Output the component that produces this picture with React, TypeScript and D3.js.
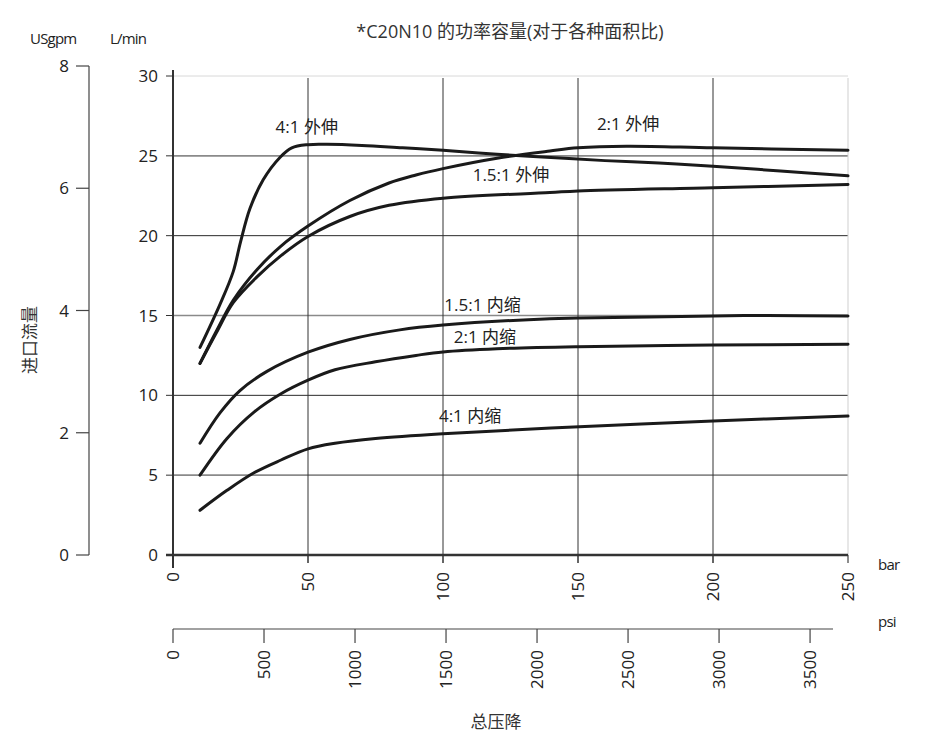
import React from "react";
import * as d3 from "d3";

// Axis ticks
const barTicks = [0, 50, 100, 150, 200, 250];
const psiTicks = [0, 500, 1000, 1500, 2000, 2500, 3000, 3500];
const lpmTicks = [0, 5, 10, 15, 20, 25, 30];
const gpmTicks = [0, 2, 4, 6, 8];

// Flow curves: [pressure drop (bar), inlet flow (L/min)]
const ext41: [number, number][] = [
  [10, 13.0], [17.4, 15.7], [22.3, 17.75], [25, 19.6], [28.5, 21.7], [33.4, 23.5],
  [39.6, 24.9], [44, 25.5], [50, 25.7], [57, 25.72], [70, 25.65], [85, 25.5], [100, 25.35],
  [120, 25.1], [140, 24.9], [160, 24.7], [180, 24.55], [200, 24.35], [225, 24.05], [250, 23.75],
];
const ext21: [number, number][] = [
  [10, 12.0], [16, 14.0], [22.3, 15.95], [31, 17.85], [40, 19.35], [50, 20.6], [65.5, 22.2],
  [80, 23.3], [90, 23.8], [100, 24.2], [120, 24.85], [139.6, 25.3], [150, 25.5], [168, 25.6],
  [200, 25.5], [250, 25.35],
];
const ext151: [number, number][] = [
  [10, 12.0], [16, 13.9], [22.3, 15.8], [31, 17.4], [40, 18.75], [50, 19.95], [65.5, 21.2],
  [80, 21.9], [100, 22.35], [139.6, 22.7], [150, 22.8], [200, 23.0], [250, 23.2],
];
const ret151: [number, number][] = [
  [10, 7.0], [17.4, 8.9], [24.8, 10.3], [34.8, 11.5], [50, 12.7], [65.5, 13.5], [84, 14.1],
  [100, 14.4], [139.6, 14.8], [150, 14.84], [200, 14.97], [220, 15.0], [250, 14.97],
];
const ret21: [number, number][] = [
  [10, 5.0], [20, 7.3], [30, 8.95], [40, 10.1], [50, 10.95], [60, 11.6], [75, 12.1],
  [90, 12.5], [100, 12.72], [120, 12.92], [150, 13.05], [200, 13.15], [250, 13.2],
];
const ret41: [number, number][] = [
  [10, 2.8], [20, 4.05], [30, 5.15], [40, 5.95], [50, 6.65], [60, 7.0], [75, 7.3],
  [100, 7.6], [140, 7.95], [200, 8.4], [250, 8.7],
];

const seriesList = [ext41, ext21, ext151, ret151, ret21, ret41];

// Curve labels: [text, pressure (bar), flow (L/min)] anchored at text start / baseline
const curveLabels: [string, number, number][] = [
  ["4:1 外伸", 38, 26.45],
  ["2:1 外伸", 157, 26.6],
  ["1.5:1 外伸", 111, 23.4],
  ["1.5:1 内缩", 100.5, 15.3],
  ["2:1 内缩", 104, 13.25],
  ["4:1 内缩", 98.5, 8.3],
];

const FONT = "'Open Sans', 'Noto Sans CJK SC', sans-serif";
const NARROW = "'Liberation Sans Narrow', 'Open Sans', sans-serif";
const CJK = "'Noto Sans CJK SC', sans-serif";

export default function App() {
  const x = d3.scaleLinear().domain([0, 250]).range([173, 848]);
  const y = d3.scaleLinear().domain([0, 30]).range([555, 76]);
  const yGpm = d3.scaleLinear().domain([0, 8]).range([555, 66]);
  const xPsi = d3.scaleLinear().domain([0, 3626]).range([173, 833]);

  const line = d3
    .line<[number, number]>()
    .x((d) => x(d[0]))
    .y((d) => y(d[1]))
    .curve(d3.curveCatmullRom.alpha(0.5));

  const hStyle = (v: number) => {
    if (v === 30) return { stroke: "#d8d8d8", w: 1 };
    if (v === 25 || v === 15 || v === 5) return { stroke: "#8a8a8a", w: 1.6 };
    return { stroke: "#2a2a2a", w: 1 };
  };

  return (
    <svg
      width={950}
      height={741}
      style={{ position: "absolute", left: 0, top: 0, background: "#fff" }}
    >
      {/* title */}
      <text x={510} y={38} textAnchor="middle" fontSize={18} fill="#333" fontFamily={FONT}>
        *C20N10 的功率容量(对于各种面积比)
      </text>
      <text x={30} y={44} fontSize={15} fill="#222" fontFamily={NARROW} letterSpacing={-0.8}>USgpm</text>
      <text x={110} y={44} fontSize={15} fill="#222" fontFamily={NARROW} letterSpacing={-0.8}>L/min</text>

      {/* horizontal grid */}
      {lpmTicks.filter((v) => v > 0).map((v) => {
        const s = hStyle(v);
        return (
          <line key={"h" + v} x1={173} x2={848} y1={y(v)} y2={y(v)} stroke={s.stroke} strokeWidth={s.w} />
        );
      })}
      {/* vertical grid */}
      {barTicks.filter((v) => v > 0).map((v) => (
        <line
          key={"v" + v}
          x1={x(v)}
          x2={x(v)}
          y1={78}
          y2={563}
          stroke={v === 250 ? "#cfcfcf" : "#333"}
          strokeWidth={1}
        />
      ))}

      {/* L/min axis */}
      <line x1={173} x2={173} y1={70} y2={568} stroke="#333" strokeWidth={2} />
      {lpmTicks.map((v) => (
        <g key={"l" + v}>
          <line x1={166} x2={173} y1={y(v)} y2={y(v)} stroke="#333" strokeWidth={1} />
          <text x={158} y={y(v)} dy="0.36em" textAnchor="end" fontSize={17} fill="#222" fontFamily={FONT}>
            {v}
          </text>
        </g>
      ))}

      {/* USgpm axis */}
      <line x1={89} x2={89} y1={yGpm(8)} y2={yGpm(0)} stroke="#444" strokeWidth={1.2} />
      {gpmTicks.map((v) => (
        <g key={"g" + v}>
          <line x1={76} x2={89} y1={yGpm(v)} y2={yGpm(v)} stroke="#444" strokeWidth={1.2} />
          <text x={69} y={yGpm(v)} dy="0.36em" textAnchor="end" fontSize={17} fill="#222" fontFamily={FONT}>
            {v}
          </text>
        </g>
      ))}
      <text
        transform="translate(36,340) rotate(-90)"
        textAnchor="middle"
        fontSize={17}
        fill="#333"
        fontFamily={CJK}
      >
        进口流量
      </text>

      {/* bar axis */}
      <line x1={166} x2={848} y1={555} y2={555} stroke="#333" strokeWidth={2.5} />
      {barTicks.map((v) => (
        <g key={"b" + v}>
          <line x1={x(v)} x2={x(v)} y1={555} y2={563} stroke="#333" strokeWidth={1} />
          <text
            transform={`translate(${x(v)},572) rotate(-90)`}
            textAnchor="end"
            dy="0.36em"
            fontSize={17}
            fill="#222"
            fontFamily={FONT}
          >
            {v}
          </text>
        </g>
      ))}
      <text x={878} y={570} fontSize={15} fill="#222" fontFamily={NARROW} letterSpacing={-0.8}>bar</text>

      {/* psi axis */}
      <line x1={173} x2={833} y1={629} y2={629} stroke="#444" strokeWidth={1.2} />
      {psiTicks.map((v) => (
        <g key={"p" + v}>
          <line x1={xPsi(v)} x2={xPsi(v)} y1={629} y2={643} stroke="#444" strokeWidth={1.2} />
          <text
            transform={`translate(${xPsi(v)},650) rotate(-90)`}
            textAnchor="end"
            dy="0.36em"
            fontSize={17}
            fill="#222"
            fontFamily={FONT}
          >
            {v}
          </text>
        </g>
      ))}
      <text x={878} y={627} fontSize={15} fill="#222" fontFamily={NARROW} letterSpacing={-0.8}>psi</text>
      <text x={496} y={728} textAnchor="middle" fontSize={17} fill="#333" fontFamily={CJK}>
        总压降
      </text>

      {/* flow curves */}
      {seriesList.map((s, i) => (
        <path key={"c" + i} d={line(s) ?? ""} fill="none" stroke="#1a1a1a" strokeWidth={3} strokeLinecap="round" />
      ))}

      {/* curve labels */}
      {curveLabels.map(([t, b, l]) => (
        <text key={t} x={x(b)} y={y(l)} fontSize={17} fill="#222" fontFamily={FONT}>
          {t}
        </text>
      ))}
    </svg>
  );
}
